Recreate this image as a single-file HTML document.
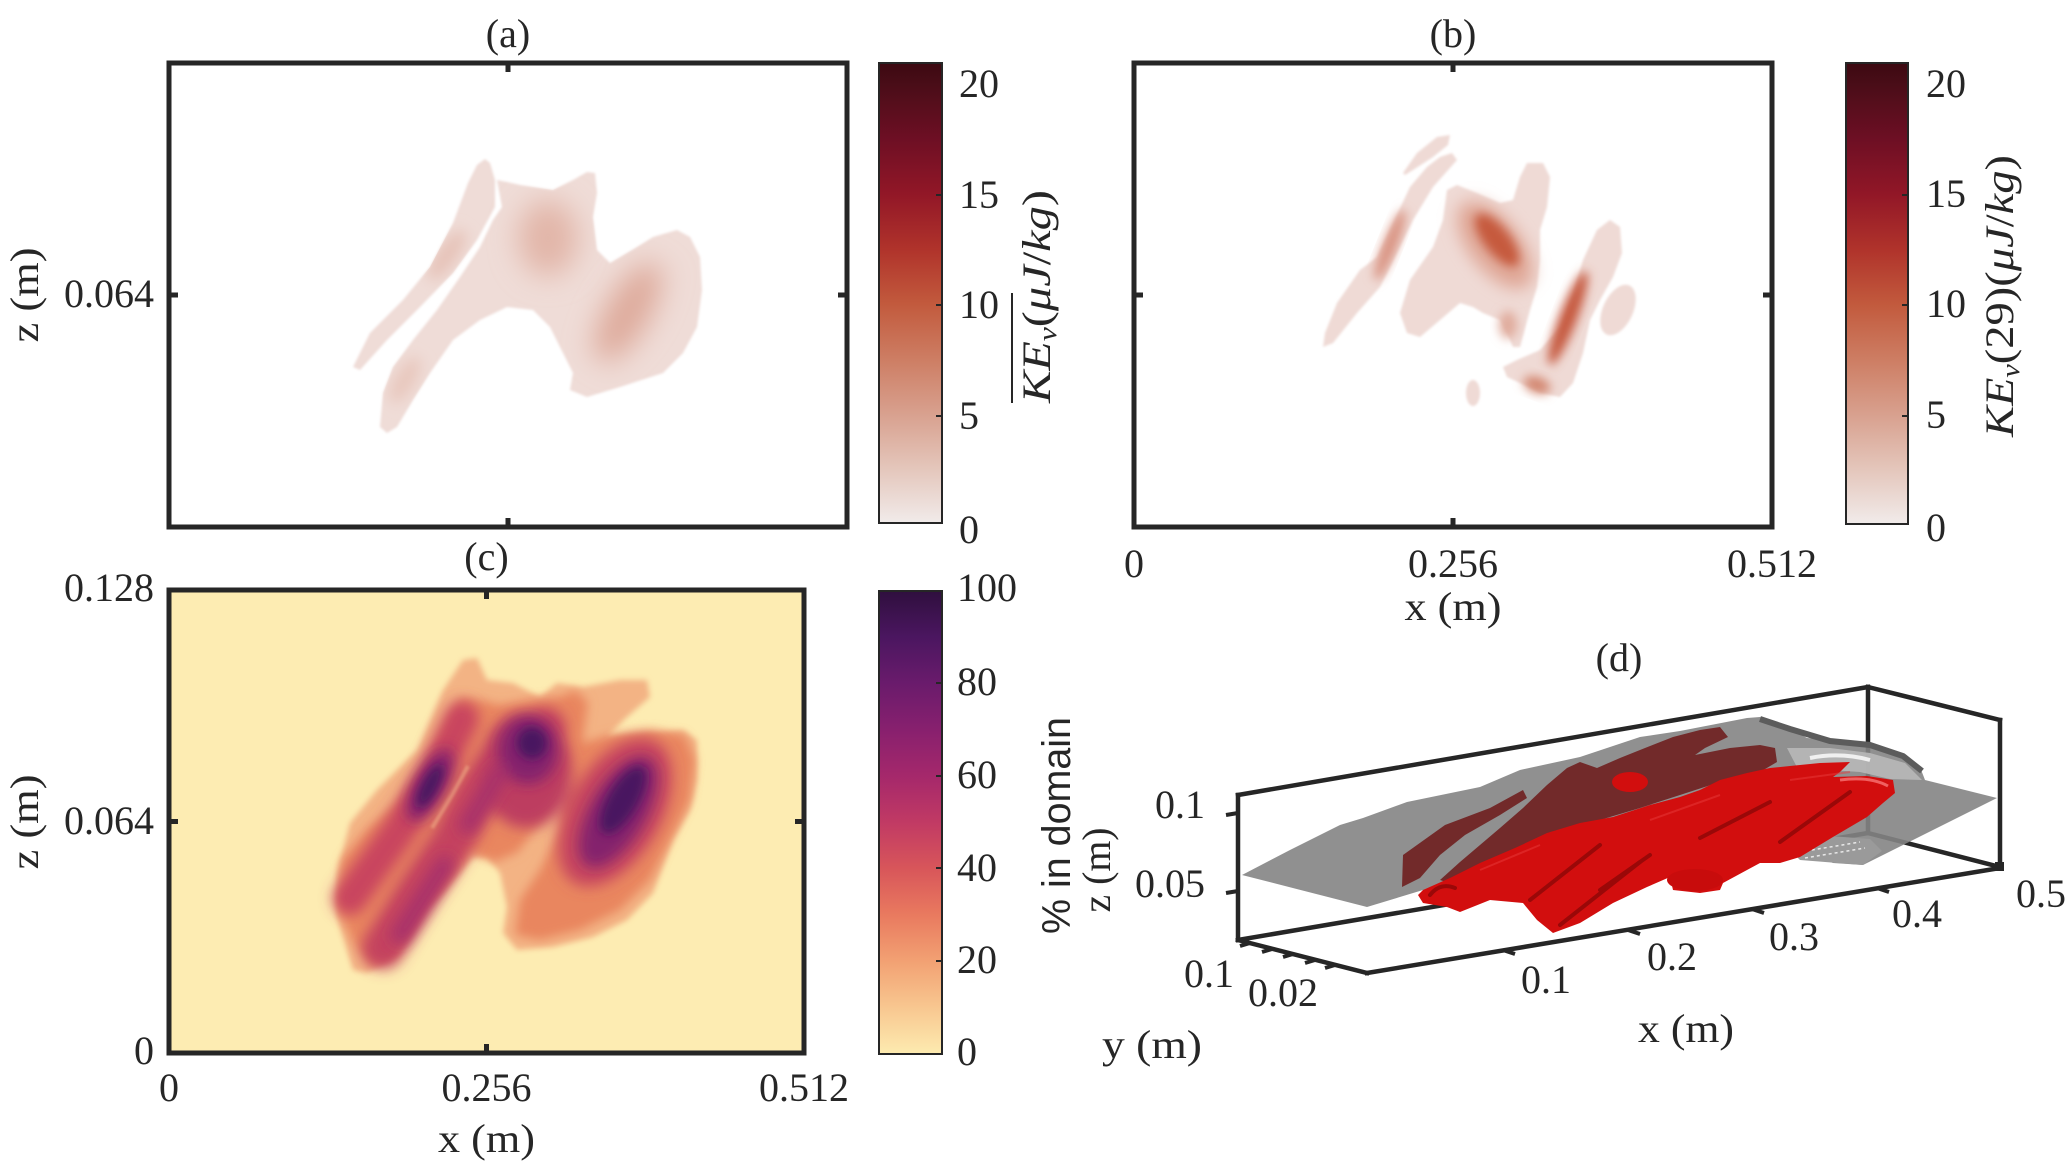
<!DOCTYPE html>
<html>
<head>
<meta charset="utf-8">
<style>
  html, body { margin: 0; padding: 0; background: #ffffff; }
  svg { display: block; }
  .t { font-family: "Liberation Serif", "DejaVu Serif", serif; font-size: 40px; fill: #262626; }
  .s { font-family: "Liberation Sans", "DejaVu Sans", sans-serif; font-size: 40px; fill: #262626; }
</style>
</head>
<body>
<svg width="2067" height="1169" viewBox="0 0 2067 1169" xmlns="http://www.w3.org/2000/svg">
  <defs>
    <linearGradient id="amp" x1="0" y1="0" x2="0" y2="1">
      <stop offset="0" stop-color="#3c0911"/>
      <stop offset="0.048" stop-color="#4a0d18"/>
      <stop offset="0.167" stop-color="#6e0f24"/>
      <stop offset="0.286" stop-color="#921727"/>
      <stop offset="0.405" stop-color="#b0332b"/>
      <stop offset="0.524" stop-color="#c25a3d"/>
      <stop offset="0.643" stop-color="#cd7d63"/>
      <stop offset="0.762" stop-color="#d8a08e"/>
      <stop offset="0.881" stop-color="#e4c6bb"/>
      <stop offset="1" stop-color="#f1ebea"/>
    </linearGradient>
    <linearGradient id="matter" x1="0" y1="0" x2="0" y2="1">
      <stop offset="0" stop-color="#2f0f3e"/>
      <stop offset="0.1" stop-color="#4b1660"/>
      <stop offset="0.2" stop-color="#6a1b6c"/>
      <stop offset="0.3" stop-color="#88206e"/>
      <stop offset="0.4" stop-color="#a5286b"/>
      <stop offset="0.5" stop-color="#c13a64"/>
      <stop offset="0.6" stop-color="#d8565a"/>
      <stop offset="0.7" stop-color="#e97a5f"/>
      <stop offset="0.8" stop-color="#f2a173"/>
      <stop offset="0.9" stop-color="#f8c790"/>
      <stop offset="1" stop-color="#fdebb0"/>
    </linearGradient>
    <filter id="b1" x="-20%" y="-20%" width="140%" height="140%"><feGaussianBlur stdDeviation="1.2"/></filter>
    <filter id="b3" x="-50%" y="-50%" width="200%" height="200%"><feGaussianBlur stdDeviation="3"/></filter>
    <filter id="b5" x="-50%" y="-50%" width="200%" height="200%"><feGaussianBlur stdDeviation="5"/></filter>
    <filter id="b7" x="-60%" y="-60%" width="220%" height="220%"><feGaussianBlur stdDeviation="7"/></filter>
    <filter id="b8" x="-80%" y="-80%" width="260%" height="260%"><feGaussianBlur stdDeviation="8"/></filter>
    <filter id="b14" x="-100%" y="-100%" width="300%" height="300%"><feGaussianBlur stdDeviation="14"/></filter>
    <clipPath id="clipA"><rect x="171" y="65" width="674" height="460"/></clipPath>
    <clipPath id="clipB"><rect x="1136" y="65" width="634" height="460"/></clipPath>
    <clipPath id="clipC"><rect x="171" y="592" width="631" height="459"/></clipPath>
    <clipPath id="clipAbody">
      <polygon points="353,367 370,333 403,300 430,267 453,223 468,183 477,165 485,159 490,163 495,180 495,207 477,240 453,273 420,307 387,340 360,370"/>
      <polygon points="497,180 507,182 520,185 553,190 573,180 587,172 595,173 597,193 593,217 597,250 610,263 637,247 653,237 677,230 690,237 700,257 702,290 697,327 683,353 663,373 620,387 587,397 570,390 573,373 560,347 550,327 533,310 507,307 480,320 453,340 430,373 413,400 397,427 387,433 380,427 383,393 393,367 413,340 437,310 460,277 480,247 493,220 502,207"/>
    </clipPath>
  </defs>

  <rect x="0" y="0" width="2067" height="1169" fill="#ffffff"/>

  <!-- ================= PANEL (a) ================= -->
  <g clip-path="url(#clipA)">
    <g filter="url(#b1)" fill="#efdcd7">
      <polygon points="353,367 370,333 403,300 430,267 453,223 468,183 477,165 485,159 490,163 495,180 495,207 477,240 453,273 420,307 387,340 360,370"/>
      <polygon points="497,180 507,182 520,185 553,190 573,180 587,172 595,173 597,193 593,217 597,250 610,263 637,247 653,237 677,230 690,237 700,257 702,290 697,327 683,353 663,373 620,387 587,397 570,390 573,373 560,347 550,327 533,310 507,307 480,320 453,340 430,373 413,400 397,427 387,433 380,427 383,393 393,367 413,340 437,310 460,277 480,247 493,220 502,207"/>
    </g>
    <g clip-path="url(#clipAbody)">
      <ellipse cx="548" cy="238" rx="30" ry="38" fill="#e2b6a9" filter="url(#b14)"/>
      <ellipse cx="628" cy="312" rx="22" ry="56" transform="rotate(30 628 312)" fill="#deaa9b" filter="url(#b14)"/>
      <ellipse cx="447" cy="255" rx="10" ry="30" transform="rotate(35 447 255)" fill="#e6c2b8" filter="url(#b7)"/>
      <ellipse cx="405" cy="380" rx="10" ry="26" transform="rotate(30 405 380)" fill="#e8c7bd" filter="url(#b7)"/>
    </g>
  </g>
  <rect x="169" y="63" width="678" height="464" fill="none" stroke="#262626" stroke-width="5"/>
  <g stroke="#262626" stroke-width="5">
    <line x1="508" y1="63" x2="508" y2="72"/>
    <line x1="508" y1="527" x2="508" y2="518"/>
    <line x1="169" y1="295" x2="178" y2="295"/>
    <line x1="847" y1="295" x2="838" y2="295"/>
  </g>
  <text class="t" x="508" y="47" text-anchor="middle">(a)</text>
  <text class="t" x="154" y="307" text-anchor="end">0.064</text>
  <text class="t" transform="translate(38,295) rotate(-90)" text-anchor="middle" textLength="95" lengthAdjust="spacingAndGlyphs">z (m)</text>

  <!-- colorbar (a) -->
  <rect x="879" y="63" width="63" height="460" fill="url(#amp)" stroke="#262626" stroke-width="2"/>
  <g stroke="#262626" stroke-width="2">
    <line x1="942" y1="195" x2="936" y2="195"/>
    <line x1="942" y1="305" x2="936" y2="305"/>
    <line x1="942" y1="416" x2="936" y2="416"/>
  </g>
  <text class="t" x="959" y="97">20</text>
  <text class="t" x="959" y="208">15</text>
  <text class="t" x="959" y="318">10</text>
  <text class="t" x="959" y="429">5</text>
  <text class="t" x="959" y="543">0</text>
  <g transform="translate(1050,403) rotate(-90)">
    <text class="t" x="0" y="0" font-style="italic" textLength="213" lengthAdjust="spacingAndGlyphs">KE<tspan font-size="26" dy="6">v</tspan><tspan dy="-6" font-style="normal">(</tspan>μJ<tspan font-style="normal">/</tspan>kg<tspan font-style="normal">)</tspan></text>
    <line x1="0" y1="-38" x2="110" y2="-38" stroke="#262626" stroke-width="2"/>
  </g>

  <!-- ================= PANEL (b) ================= -->
  <g clip-path="url(#clipB)">
    <g filter="url(#b1)" fill="#efdad5">
      <polygon points="1403,173 1417,153 1437,137 1450,135 1448,145 1433,157 1413,170 1405,175"/>
      <polygon points="1452,153 1457,160 1433,187 1413,220 1397,253 1380,287 1357,313 1333,343 1323,347 1325,333 1337,303 1360,270 1377,257 1393,223 1410,187 1427,167 1440,157"/>
      <polygon points="1447,190 1457,185 1477,193 1500,203 1513,200 1520,177 1527,163 1543,163 1550,177 1547,207 1540,230 1540,260 1537,287 1530,310 1520,347 1513,347 1507,333 1500,320 1483,313 1473,307 1460,303 1440,320 1420,337 1407,333 1400,313 1410,280 1433,247 1443,220"/>
      <polygon points="1503,367 1517,360 1540,350 1560,327 1573,293 1583,260 1597,230 1610,220 1620,227 1622,253 1613,277 1600,300 1590,320 1583,353 1573,383 1560,397 1540,393 1520,383 1507,377"/>
      <ellipse cx="1618" cy="310" rx="15" ry="27" transform="rotate(25 1618 310)"/>
      <ellipse cx="1473" cy="393" rx="7" ry="13"/>
    </g>
    <ellipse cx="1495" cy="245" rx="26" ry="52" transform="rotate(-38 1495 245)" fill="#e0a898" filter="url(#b8)"/>
    <ellipse cx="1497" cy="240" rx="13" ry="32" transform="rotate(-38 1497 240)" fill="#c65a3e" filter="url(#b5)"/>
    <ellipse cx="1390" cy="245" rx="7" ry="38" transform="rotate(22 1390 245)" fill="#d99280" filter="url(#b5)"/>
    <ellipse cx="1568" cy="318" rx="9" ry="50" transform="rotate(21 1568 318)" fill="#c65a40" filter="url(#b5)"/>
    <ellipse cx="1537" cy="385" rx="14" ry="8" transform="rotate(20 1537 385)" fill="#d38670" filter="url(#b5)"/>
    <ellipse cx="1508" cy="325" rx="9" ry="14" fill="#e0ab9c" filter="url(#b5)"/>
  </g>
  <rect x="1134" y="63" width="638" height="464" fill="none" stroke="#262626" stroke-width="5"/>
  <g stroke="#262626" stroke-width="5">
    <line x1="1453" y1="63" x2="1453" y2="72"/>
    <line x1="1453" y1="527" x2="1453" y2="518"/>
    <line x1="1134" y1="295" x2="1143" y2="295"/>
    <line x1="1772" y1="295" x2="1763" y2="295"/>
  </g>
  <text class="t" x="1453" y="47" text-anchor="middle">(b)</text>
  <text class="t" x="1134" y="577" text-anchor="middle">0</text>
  <text class="t" x="1453" y="577" text-anchor="middle">0.256</text>
  <text class="t" x="1772" y="577" text-anchor="middle">0.512</text>
  <text class="t" x="1453" y="620" text-anchor="middle" textLength="97" lengthAdjust="spacingAndGlyphs">x (m)</text>

  <!-- colorbar (b) -->
  <rect x="1846" y="63" width="62" height="461" fill="url(#amp)" stroke="#262626" stroke-width="2"/>
  <g stroke="#262626" stroke-width="2">
    <line x1="1908" y1="195" x2="1902" y2="195"/>
    <line x1="1908" y1="305" x2="1902" y2="305"/>
    <line x1="1908" y1="416" x2="1902" y2="416"/>
  </g>
  <text class="t" x="1926" y="97">20</text>
  <text class="t" x="1926" y="207">15</text>
  <text class="t" x="1926" y="317">10</text>
  <text class="t" x="1926" y="428">5</text>
  <text class="t" x="1926" y="541">0</text>
  <g transform="translate(2013,437) rotate(-90)">
    <text class="t" x="0" y="0" font-style="italic" textLength="282" lengthAdjust="spacingAndGlyphs">KE<tspan font-size="26" dy="6">v</tspan><tspan dy="-6" font-style="normal">(29)(</tspan>μJ<tspan font-style="normal">/</tspan>kg<tspan font-style="normal">)</tspan></text>
  </g>

  <!-- ================= PANEL (c) ================= -->
  <rect x="169" y="590" width="635" height="463" fill="#fdecb2"/>
  <g clip-path="url(#clipC)">
    <polygon filter="url(#b3)" fill="#f3b384" points="353,970 337,917 337,873 350,823 377,790 417,750 443,690 463,660 477,658 487,680 513,683 540,697 557,683 583,687 620,680 647,680 650,697 627,717 607,737 640,735 683,730 697,740 697,780 690,810 673,840 653,893 627,920 593,937 553,947 517,950 503,933 507,907 500,873 487,857 473,857 443,893 427,907 413,933 397,957 367,973"/>
    <g filter="url(#b5)" fill="#e9865f">
      <polygon points="338,910 342,860 368,828 398,802 423,768 443,728 460,698 480,700 500,705 530,700 560,697 575,690 588,702 582,745 562,785 540,822 518,852 495,862 470,852 446,882 420,912 397,952 372,966 355,945"/>
      <polygon points="575,745 610,735 650,730 685,735 695,760 690,800 670,840 650,880 620,910 580,930 540,940 515,935 520,900 540,870 560,830 565,790"/>
    </g>
    <g filter="url(#b7)">
      <path d="M350,898 L398,832 L436,772 L462,718" stroke="#c9455f" stroke-width="34" fill="none" stroke-linecap="round"/>
      <path d="M383,948 L418,892 L452,842 L478,792 L508,748 L545,728" stroke="#c4435f" stroke-width="42" fill="none" stroke-linecap="round"/>
      <ellipse cx="526" cy="770" rx="46" ry="58" fill="#bd3d60"/>
      <ellipse cx="615" cy="812" rx="46" ry="82" transform="rotate(30 615 812)" fill="#c8465f"/>
    </g>
    <g filter="url(#b7)">
      <ellipse cx="430" cy="785" rx="15" ry="40" transform="rotate(28 430 785)" fill="#84206d"/>
      <ellipse cx="528" cy="750" rx="30" ry="34" fill="#84206d"/>
      <ellipse cx="618" cy="812" rx="28" ry="62" transform="rotate(30 618 812)" fill="#84206d"/>
      <path d="M400,935 L445,865" stroke="#a8306a" stroke-width="18" fill="none" stroke-linecap="round"/>
      <path d="M468,825 L500,772" stroke="#a8306a" stroke-width="18" fill="none" stroke-linecap="round"/>
    </g>
    <g filter="url(#b5)" fill="#4a1560">
      <ellipse cx="430" cy="786" rx="8" ry="24" transform="rotate(28 430 786)"/>
      <ellipse cx="532" cy="743" rx="15" ry="16"/>
      <ellipse cx="623" cy="800" rx="15" ry="38" transform="rotate(30 623 800)"/>
    </g>
    <path d="M432,828 L452,795 L468,766" stroke="#f0b088" stroke-width="4" fill="none" opacity="0.55" filter="url(#b1)"/>
  </g>
  <rect x="169" y="590" width="635" height="463" fill="none" stroke="#262626" stroke-width="5"/>
  <g stroke="#262626" stroke-width="5">
    <line x1="486.5" y1="590" x2="486.5" y2="599"/>
    <line x1="486.5" y1="1053" x2="486.5" y2="1044"/>
    <line x1="169" y1="821.5" x2="178" y2="821.5"/>
    <line x1="804" y1="821.5" x2="795" y2="821.5"/>
  </g>
  <text class="t" x="486.5" y="570" text-anchor="middle">(c)</text>
  <text class="t" x="154" y="601" text-anchor="end">0.128</text>
  <text class="t" x="154" y="834" text-anchor="end">0.064</text>
  <text class="t" x="154" y="1064" text-anchor="end">0</text>
  <text class="t" x="169" y="1101" text-anchor="middle">0</text>
  <text class="t" x="486.5" y="1101" text-anchor="middle">0.256</text>
  <text class="t" x="804" y="1101" text-anchor="middle">0.512</text>
  <text class="t" x="486.5" y="1152" text-anchor="middle" textLength="97" lengthAdjust="spacingAndGlyphs">x (m)</text>
  <text class="t" transform="translate(38,822) rotate(-90)" text-anchor="middle" textLength="95" lengthAdjust="spacingAndGlyphs">z (m)</text>

  <!-- colorbar (c) -->
  <rect x="879" y="591" width="63" height="463" fill="url(#matter)" stroke="#262626" stroke-width="2"/>
  <g stroke="#262626" stroke-width="2">
    <line x1="942" y1="683" x2="936" y2="683"/>
    <line x1="942" y1="776" x2="936" y2="776"/>
    <line x1="942" y1="868" x2="936" y2="868"/>
    <line x1="942" y1="961" x2="936" y2="961"/>
  </g>
  <text class="t" x="957" y="601">100</text>
  <text class="t" x="957" y="695">80</text>
  <text class="t" x="957" y="788">60</text>
  <text class="t" x="957" y="881">40</text>
  <text class="t" x="957" y="973">20</text>
  <text class="t" x="957" y="1065">0</text>
  <text class="s" transform="translate(1070,934) rotate(-90)" textLength="217" lengthAdjust="spacingAndGlyphs">% in domain</text>

  <!-- ================= PANEL (d) ================= -->
  <g stroke="#262626" stroke-width="4.5" stroke-linecap="square" fill="none">
    <line x1="1238" y1="795" x2="1868" y2="687"/>
    <line x1="1868" y1="687" x2="2000" y2="720"/>
    <line x1="2000" y1="720" x2="2000" y2="867"/>
    <line x1="1868" y1="687" x2="1868" y2="833"/>
    <line x1="1868" y1="833" x2="2000" y2="867"/>
    <line x1="1238" y1="940" x2="1868" y2="833"/>
  </g>
  <!-- gray surface -->
  <polygon fill="#848484" fill-opacity="0.9" points="1242,875 1290,850 1340,825 1363,818 1407,802 1480,787 1520,770 1580,757 1640,737 1680,731 1747,718 1760,717 1787,727 1807,738 1833,740 1867,743 1900,753 1920,767 1925,780 1997,798 1863,865 1833,863 1800,852 1760,860 1700,870 1600,885 1500,895 1423,890 1367,907"/>
  <polygon fill="#b8b8b8" fill-opacity="0.9" points="1787,748 1830,748 1870,753 1905,763 1922,780 1890,779 1860,772 1830,770 1800,773"/>
  <path d="M1810,758 Q1840,752 1870,760" stroke="#f0f0f0" stroke-width="4" fill="none"/>
  <polyline fill="none" stroke="#5c5c5c" stroke-width="6" points="1760,719 1790,729 1830,741 1870,745 1903,756 1922,771"/>
  <polygon fill="#9a9a9a" points="1790,850 1830,836 1870,839 1882,851 1863,865 1800,860"/>
  <g stroke="#e8e8e8" stroke-width="1.5" stroke-dasharray="3 3">
    <line x1="1800" y1="852" x2="1860" y2="842"/>
    <line x1="1805" y1="858" x2="1865" y2="848"/>
  </g>
  <!-- dark red (behind gray) -->
  <polygon fill="#722a2a" points="1402,887 1403,855 1445,825 1490,808 1523,790 1527,798 1500,815 1465,835 1440,855 1420,878"/>
  <polygon fill="#722a2a" points="1440,880 1460,862 1480,845 1500,828 1523,808 1547,785 1567,768 1580,762 1597,768 1620,758 1645,748 1673,737 1700,730 1720,727 1728,737 1705,748 1695,755 1730,748 1760,745 1775,748 1777,762 1760,772 1720,782 1680,795 1640,808 1600,820 1560,835 1520,850 1480,868 1455,885"/>
  <!-- bright red isosurface -->
  <polygon fill="#d20e0e" points="1423,890 1450,878 1480,863 1515,848 1547,833 1580,823 1613,817 1650,805 1680,797 1700,790 1720,780 1747,773 1770,768 1790,766 1820,763 1850,762 1840,772 1833,777 1867,776 1893,780 1895,793 1883,803 1867,817 1833,837 1800,857 1780,863 1760,863 1747,870 1723,883 1720,890 1700,893 1673,890 1670,877 1647,887 1613,903 1580,923 1553,933 1537,920 1523,903 1490,900 1460,912 1447,907 1423,903 1418,895"/>
  <ellipse cx="1630" cy="782" rx="18" ry="10" fill="#d20e0e"/>
  <ellipse cx="1695" cy="880" rx="28" ry="11" fill="#c80c0c"/>
  <g stroke="#e83a3a" stroke-width="2" fill="none" opacity="0.5">
    <path d="M1480,870 L1540,845"/>
    <path d="M1650,820 L1720,795"/>
    <path d="M1790,780 L1850,772"/>
  </g>
  <g stroke="#9a0808" stroke-width="4" fill="none" stroke-linecap="round">
    <path d="M1530,900 L1600,845"/>
    <path d="M1560,925 L1640,862"/>
    <path d="M1700,838 L1770,802"/>
    <path d="M1780,842 L1850,792"/>
    <path d="M1430,895 Q1440,882 1455,888"/>
    <path d="M1600,890 L1650,855"/>
  </g>
  <path d="M1840,780 Q1870,776 1888,786" stroke="#f06060" stroke-width="3" fill="none"/>
  <!-- front axes lines -->
  <g stroke="#262626" stroke-width="4.5" stroke-linecap="square" fill="none">
    <line x1="1238" y1="795" x2="1238" y2="940"/>
    <line x1="1238" y1="940" x2="1367" y2="973"/>
    <line x1="1367" y1="973" x2="2000" y2="868"/>
  </g>
  <g stroke="#262626" stroke-width="4" fill="none">
    <line x1="1238" y1="813" x2="1226" y2="815"/>
    <line x1="1238" y1="891" x2="1226" y2="893"/>
    <line x1="1503" y1="950" x2="1515" y2="954"/>
    <line x1="1628" y1="930" x2="1640" y2="934"/>
    <line x1="1752" y1="909" x2="1764" y2="913"/>
    <line x1="1877" y1="888" x2="1889" y2="892"/>
    <line x1="1250" y1="943" x2="1240" y2="946"/>
    <line x1="1272" y1="949" x2="1262" y2="952"/>
    <line x1="1293" y1="954" x2="1283" y2="957"/>
    <line x1="1315" y1="960" x2="1305" y2="963"/>
    <line x1="1335" y1="965" x2="1325" y2="968"/>
  </g>
  <rect x="1995" y="862" width="9" height="9" fill="#262626"/>
  <text class="t" x="1619" y="671" text-anchor="middle">(d)</text>
  <text class="t" x="1205" y="818" text-anchor="end">0.1</text>
  <text class="t" x="1205" y="897" text-anchor="end">0.05</text>
  <text class="t" x="1209" y="987" text-anchor="middle">0.1</text>
  <text class="t" x="1283" y="1006" text-anchor="middle">0.02</text>
  <text class="t" x="1546" y="993" text-anchor="middle">0.1</text>
  <text class="t" x="1672" y="970" text-anchor="middle">0.2</text>
  <text class="t" x="1794" y="950" text-anchor="middle">0.3</text>
  <text class="t" x="1917" y="927" text-anchor="middle">0.4</text>
  <text class="t" x="2041" y="907" text-anchor="middle">0.5</text>
  <text class="t" x="1686" y="1042" text-anchor="middle" textLength="96" lengthAdjust="spacingAndGlyphs">x (m)</text>
  <text class="t" x="1152" y="1058" text-anchor="middle" textLength="100" lengthAdjust="spacingAndGlyphs">y (m)</text>
  <text class="t" transform="translate(1110,870) rotate(-90)" text-anchor="middle" textLength="85" lengthAdjust="spacingAndGlyphs">z (m)</text>
</svg>
</body>
</html>
